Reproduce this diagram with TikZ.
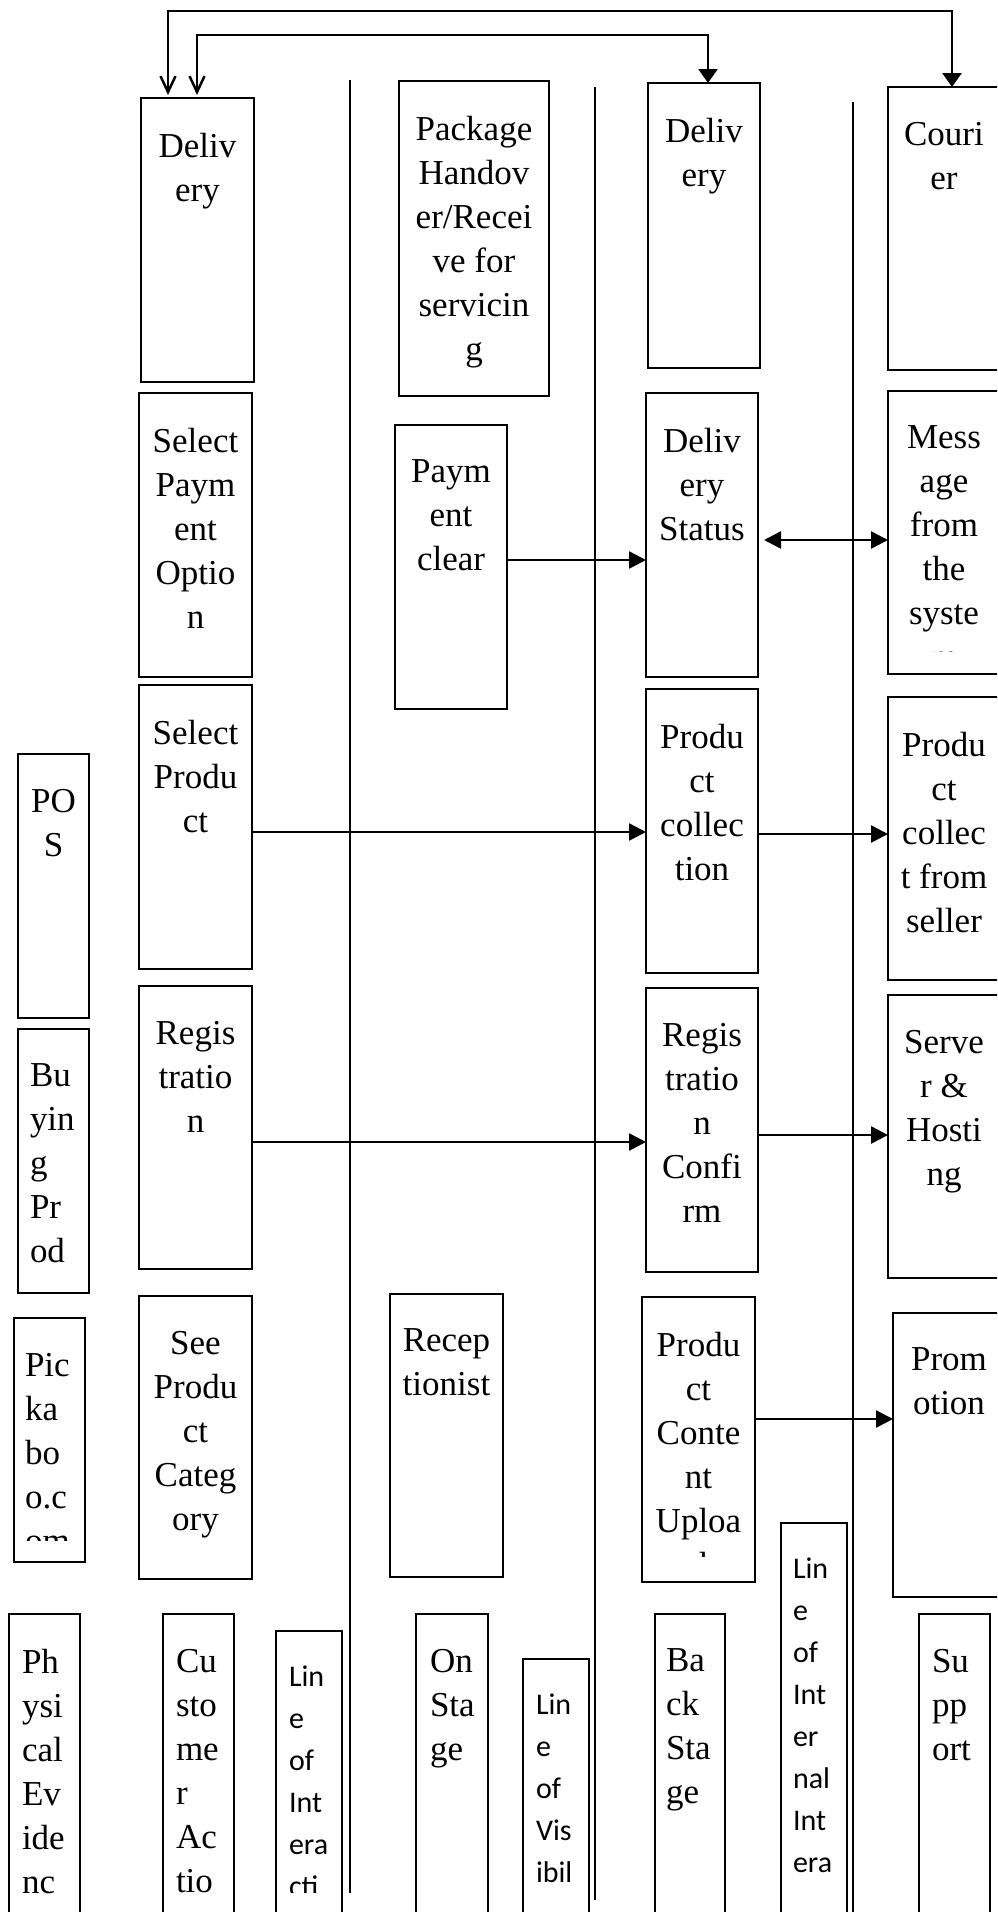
\documentclass[tikz,border=0pt]{standalone}
\usepackage{fontspec}
\setmainfont{Liberation Serif}
\newfontfamily\sanscal{Carlito}
\usetikzlibrary{arrows.meta,calc}
\tikzset{
  box/.style={draw, line width=2pt, inner sep=0pt, outer sep=0pt, anchor=north west},
  ctxt/.style={anchor=north, inner sep=0pt, outer sep=0pt, align=center, font=\fontsize{35}{44}\selectfont},
  ltxt/.style={anchor=north west, inner sep=0pt, outer sep=0pt, align=left, font=\fontsize{35}{44}\selectfont},
  stxt/.style={anchor=north west, inner sep=0pt, outer sep=0pt, align=left, font=\sanscal\fontsize{30}{42}\selectfont},
  conn/.style={line width=2.5pt},
  sepline/.style={line width=2pt},
  tri/.tip={Triangle[length=17pt,width=17pt]},
  dtri/.tip={Triangle[length=14pt,width=19pt]},
  barb/.tip={Straight Barb[length=16pt,width=15pt]},
}
% name x1 y1 x2 y2 clipy text
\newcommand\mkcbox[7]{%
  \node[box, minimum width={(#4-#2)*1pt}, minimum height={(#5-#3)*1pt}] (#1) at (#2,#3) {};
  \begin{scope}
    \clip (#2,#3) rectangle (#4,#6);
    \node[ctxt] (#1t) at ($(#1.north)+(0,35)$) {#7};
  \end{scope}}
% name x1 y1 x2 y2 clipy style xoff text
\newcommand\mklbox[9]{%
  \node[box, minimum width={(#4-#2)*1pt}, minimum height={(#5-#3)*1pt}] (#1) at (#2,#3) {};
  \begin{scope}
    \clip (#2,#3) rectangle (#4,#6);
    \node[#7] (#1t) at ($(#1.north west)+(#8,35)$) {#9};
  \end{scope}}
\begin{document}
\begin{tikzpicture}[x=1pt,y=-1pt]
\useasboundingbox (0,0) rectangle (997,1912);
\clip (0,0) rectangle (997,1912);
\fill[white] (0,0) rectangle (997,1912);
% swimlane separators
\draw[sepline] (350,80) -- (350,1893);
\draw[sepline] (595,87) -- (595,1900);
\draw[sepline] (853,102) -- (853,1920);
% boxes
\mkcbox{delL}{141}{98}{254}{382}{362}{Deliv\\ery}
\mkcbox{pkg}{399}{81}{549}{396}{376}{Package\\Handov\\er/Recei\\ve for\\servicin\\g}
\mkcbox{delR}{648}{83}{760}{368}{348}{Deliv\\ery}
\mkcbox{cour}{888}{87}{1000}{370}{350}{Couri\\er}
\mkcbox{selpay}{139}{393}{252}{677}{657}{Select\\Paym\\ent\\Optio\\n}
\mkcbox{pay}{395}{425}{507}{709}{689}{Paym\\ent\\clear}
\mkcbox{dstat}{646}{393}{758}{677}{657}{Deliv\\ery\\Status}
\mkcbox{msg}{888}{391}{1000}{674}{651}{Mess\\age\\from\\the\\syste\\m}
\mkcbox{selprod}{139}{685}{252}{969}{949}{Select\\Produ\\ct}
\mkcbox{pos}{18}{754}{89}{1018}{998}{PO\\S}
\mkcbox{pcoll}{646}{689}{758}{973}{953}{Produ\\ct\\collec\\tion}
\mkcbox{psell}{888}{697}{1000}{980}{960}{Produ\\ct\\collec\\t from\\seller}
\mkcbox{reg}{139}{986}{252}{1269}{1249}{Regis\\tratio\\n}
\mklbox{buy}{18}{1029}{89}{1293}{1273}{ltxt}{12}{Bu\\yin\\g\\Pr\\od}
\mkcbox{regc}{646}{988}{758}{1272}{1252}{Regis\\tratio\\n\\Confi\\rm}
\mkcbox{serv}{888}{995}{1000}{1278}{1258}{Serve\\r \&\\Hosti\\ng}
\mkcbox{see}{139}{1296}{252}{1579}{1559}{See\\Produ\\ct\\Categ\\ory}
\mklbox{pick}{14}{1318}{85}{1562}{1540}{ltxt}{11}{Pic\\ka\\bo\\o.c\\om}
\mkcbox{recep}{390}{1294}{503}{1577}{1557}{Recep\\tionist}
\mkcbox{pcu}{642}{1297}{755}{1582}{1556}{Produ\\ct\\Conte\\nt\\Uploa\\d}
\mkcbox{promo}{893}{1313}{1005}{1597}{1577}{Prom\\otion}
\mklbox{pe}{9}{1614}{80}{1920}{1898}{ltxt}{13}{Ph\\ysi\\cal\\Ev\\ide\\nc}
\mklbox{ca}{163}{1614}{234}{1920}{1898}{ltxt}{13}{Cu\\sto\\me\\r\\Ac\\tio}
\mklbox{loi}{276}{1631}{342}{1920}{1892}{stxt}{13}{Lin\\e\\of\\Int\\era\\cti}
\mklbox{onst}{416}{1614}{488}{1920}{1898}{ltxt}{14}{On\\Sta\\ge}
\mklbox{lov}{523}{1659}{589}{1920}{1891}{stxt}{13}{Lin\\e\\of\\Vis\\ibil}
\mklbox{bst}{655}{1614}{725}{1920}{1898}{ltxt}{11}{Ba\\ck\\Sta\\ge}
\mklbox{loii}{781}{1523}{847}{1920}{1891}{stxt}{12}{Lin\\e\\of\\Int\\er\\nal\\Int\\era}
\mklbox{sup}{919}{1614}{990}{1920}{1898}{ltxt}{13}{Su\\pp\\ort}
% connectors
\draw[conn, barb-dtri] ($(delL.north west)+(27,-3)$) -- ++(0,-84) -| ($(cour.north west)+(64,0)$);
\draw[conn, barb-dtri] ($(delL.north west)+(56,-3)$) -- ++(0,-60) -| ($(delR.north west)+(60,0)$);
\draw[conn,-tri] (pay.east |- 0,560) -- (dstat.west |- 0,560);
\draw[conn,tri-tri,shorten <=6pt] (dstat.east |- 0,540) -- (msg.west |- 0,540);
\draw[conn,-tri] (selprod.east |- 0,832) -- (pcoll.west |- 0,832);
\draw[conn,-tri] (pcoll.east |- 0,834) -- (psell.west |- 0,834);
\draw[conn,-tri] (reg.east |- 0,1142) -- (regc.west |- 0,1142);
\draw[conn,-tri] (regc.east |- 0,1135) -- (serv.west |- 0,1135);
\draw[conn,-tri] (pcu.east |- 0,1419) -- (promo.west |- 0,1419);
\end{tikzpicture}
\end{document}
